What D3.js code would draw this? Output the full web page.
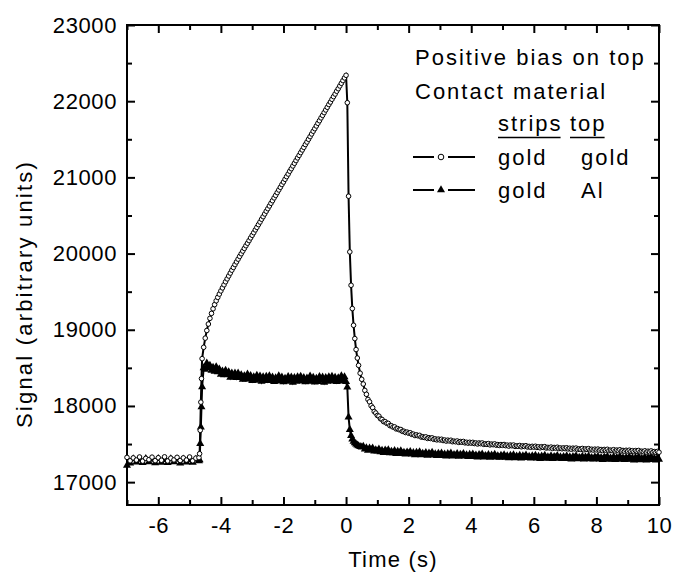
<!DOCTYPE html>
<html><head><meta charset="utf-8">
<script src="https://cdn.jsdelivr.net/npm/d3@7"></script>
<style>
body{margin:0;background:#fff}
text{font-family:"Liberation Sans",Arial,sans-serif;fill:#000}
</style>
</head><body>
<svg id="chart" width="673" height="574"></svg>
<script>
// ---------------- data ----------------
const time = [
-7.0,-6.9,-6.8,-6.7,-6.6,-6.5,-6.4,-6.3,-6.2,-6.1,-6.0,-5.9,-5.8,-5.7,-5.6,-5.5,-5.4,-5.3,-5.2,-5.1,-5.0,-4.9,-4.8,-4.7,
-4.68,-4.66,-4.64,-4.62,-4.60,
-4.55,-4.50,-4.45,-4.40,-4.35,-4.30,-4.25,-4.20,-4.15,-4.10,-4.05,-4.00,-3.95,-3.90,-3.85,-3.80,-3.75,-3.70,-3.65,-3.60,
-3.55,-3.50,-3.45,-3.40,-3.35,-3.30,-3.25,-3.20,-3.15,-3.10,-3.05,-3.00,-2.95,-2.90,-2.85,-2.80,-2.75,-2.70,-2.65,-2.60,
-2.55,-2.50,-2.45,-2.40,-2.35,-2.30,-2.25,-2.20,-2.15,-2.10,-2.05,-2.00,-1.95,-1.90,-1.85,-1.80,-1.75,-1.70,-1.65,-1.60,
-1.55,-1.50,-1.45,-1.40,-1.35,-1.30,-1.25,-1.20,-1.15,-1.10,-1.05,-1.00,-0.95,-0.90,-0.85,-0.80,-0.75,-0.70,-0.65,-0.60,
-0.55,-0.50,-0.45,-0.40,-0.35,-0.30,-0.25,-0.20,-0.15,-0.10,-0.05,0.00,
0.04,0.08,0.12,0.16,0.20,0.24,0.28,0.32,0.36,0.40,0.45,0.50,
0.55,0.60,0.65,0.70,0.75,0.80,0.85,0.90,0.95,1.00,
1.05,1.10,1.15,1.20,1.25,1.30,1.35,1.40,1.45,1.50,1.55,1.60,1.65,1.70,1.75,1.80,1.85,1.90,1.95,2.00,
2.05,2.10,2.15,2.20,2.25,2.30,2.35,2.40,2.45,2.50,2.55,2.60,2.65,2.70,2.75,2.80,2.85,2.90,2.95,3.00,
3.05,3.10,3.15,3.20,3.25,3.30,3.35,3.40,3.45,3.50,3.55,3.60,3.65,3.70,3.75,3.80,3.85,3.90,3.95,4.00,
4.05,4.10,4.15,4.20,4.25,4.30,4.35,4.40,4.45,4.50,4.55,4.60,4.65,4.70,4.75,4.80,4.85,4.90,4.95,5.00,
5.05,5.10,5.15,5.20,5.25,5.30,5.35,5.40,5.45,5.50,5.55,5.60,5.65,5.70,5.75,5.80,5.85,5.90,5.95,6.00,
6.05,6.10,6.15,6.20,6.25,6.30,6.35,6.40,6.45,6.50,6.55,6.60,6.65,6.70,6.75,6.80,6.85,6.90,6.95,7.00,
7.05,7.10,7.15,7.20,7.25,7.30,7.35,7.40,7.45,7.50,7.55,7.60,7.65,7.70,7.75,7.80,7.85,7.90,7.95,8.00,
8.05,8.10,8.15,8.20,8.25,8.30,8.35,8.40,8.45,8.50,8.55,8.60,8.65,8.70,8.75,8.80,8.85,8.90,8.95,9.00,
9.05,9.10,9.15,9.20,9.25,9.30,9.35,9.40,9.45,9.50,9.55,9.60,9.65,9.70,9.75,9.80,9.85,9.90,9.95,10.00
];
// strips gold / top gold (open circles)
const goldGold = [
17325,17280,17318,17290,17330,17276,17312,17295,17328,17282,17320,17288,17332,17278,17315,17292,17326,17284,17318,17290,17330,17280,17315,17322,
17373,17680,18050,18359,18621,
18770,18890,18990,19075,19150,19215,19275,19330,19380,19425,19468,19510,19550,19590,19630,19668,19706,19744,19782,19818,
19855,19891,19927,19963,19998,20033,20068,20103,20136,20170,20206,20240,20274,20311,20344,20380,20414,20451,20484,20520,
20556,20589,20625,20660,20694,20731,20764,20800,20835,20870,20906,20939,20975,21010,21044,21081,21114,21150,21185,21220,
21256,21289,21325,21360,21394,21431,21464,21500,21535,21570,21606,21639,21675,21710,21744,21781,21814,21850,21885,21920,
21956,21989,22025,22060,22094,22131,22164,22200,22235,22270,22306,22340,
21980,20753,20022,19584,19278,19059,18884,18740,18629,18533,18430,18350,
18288,18204,18153,18086,18054,18003,17977,17927,17907,17875,
17866,17832,17823,17794,17794,17772,17771,17742,17740,17723,17725,17699,17703,17687,17691,17667,17668,17651,17657,17642,
17648,17627,17630,17612,17621,17608,17614,17592,17596,17586,17594,17574,17583,17573,17581,17562,17568,17555,17565,17554,
17563,17546,17553,17539,17551,17541,17550,17531,17538,17530,17540,17522,17533,17524,17534,17516,17523,17512,17523,17512,
17522,17507,17514,17501,17514,17505,17514,17496,17503,17496,17506,17489,17500,17492,17502,17485,17493,17482,17493,17483,
17494,17479,17486,17473,17487,17478,17487,17469,17477,17470,17481,17464,17476,17468,17478,17461,17469,17458,17470,17460,
17471,17456,17464,17451,17465,17456,17466,17448,17456,17449,17460,17443,17455,17447,17458,17441,17449,17438,17450,17440,
17451,17436,17445,17432,17446,17437,17447,17429,17437,17430,17442,17425,17437,17429,17440,17423,17432,17421,17433,17423,
17434,17419,17428,17415,17429,17420,17431,17413,17421,17414,17426,17409,17421,17413,17425,17408,17416,17405,17418,17408,
17419,17404,17413,17400,17414,17405,17416,17398,17406,17399,17411,17394,17406,17398,17410,17393,17401,17390,17403,17393
];
// strips gold / top Al (filled triangles)
const goldAl = [
17220,17250,17305,17262,17298,17255,17310,17265,17300,17252,17308,17260,17296,17256,17306,17264,17300,17250,17302,17262,17295,17258,17300,17280,
17290,17505,17723,17986,18249,
18500,18480,18563,18502,18532,18465,18505,18454,18514,18446,18484,18413,18456,18407,18466,18410,18448,18375,18430,18381,
18431,18372,18431,18372,18409,18349,18396,18350,18416,18354,18398,18332,18380,18336,18400,18349,18391,18322,18381,18336,
18389,18333,18395,18338,18377,18320,18369,18326,18393,18333,18378,18314,18363,18321,18385,18335,18378,18310,18370,18326,
18380,18325,18388,18332,18372,18315,18365,18322,18390,18330,18376,18312,18362,18320,18385,18335,18378,18310,18370,18326,
18380,18325,18389,18333,18374,18317,18368,18325,18394,18334,18381,18317,
18248,17854,17690,17610,17565,17535,17514,17498,17486,17476,17467,17459,
17470,17432,17448,17416,17446,17425,17447,17406,17424,17406,
17434,17398,17417,17387,17419,17400,17423,17383,17402,17385,17412,17374,17402,17384,17411,17374,17391,17367,17395,17374,
17400,17366,17386,17357,17390,17372,17396,17357,17377,17361,17388,17351,17379,17362,17390,17354,17371,17347,17376,17356,
17382,17348,17368,17340,17373,17355,17380,17341,17361,17346,17373,17336,17365,17348,17375,17340,17357,17334,17363,17342,
17369,17335,17356,17327,17360,17343,17367,17329,17349,17334,17361,17325,17353,17337,17364,17329,17346,17323,17352,17332,
17358,17325,17345,17317,17350,17333,17358,17319,17340,17324,17352,17315,17344,17328,17355,17320,17337,17314,17344,17323,
17350,17316,17337,17309,17342,17325,17350,17311,17332,17316,17344,17308,17336,17320,17348,17312,17330,17307,17336,17316,
17343,17309,17330,17302,17335,17318,17343,17304,17325,17310,17337,17301,17330,17313,17341,17306,17323,17300,17330,17309,
17336,17303,17323,17295,17329,17311,17336,17298,17318,17303,17331,17295,17323,17307,17335,17299,17317,17294,17323,17303,
17330,17297,17317,17289,17323,17305,17330,17292,17313,17297,17325,17289,17317,17301,17329,17294,17311,17288,17318,17297
];
const xTicks = [-6,-4,-2,0,2,4,6,8,10];
const xMinorTicks = [-7,-5,-3,-1,1,3,5,7,9];
const yTicks = [17000,18000,19000,20000,21000,22000,23000];
const yMinorTicks = [17500,18500,19500,20500,21500,22500];
const xLabel = "Time (s)";
const yLabel = "Signal (arbitrary units)";
const legendTitle1 = "Positive bias on top";
const legendTitle2 = "Contact material";
const legendHeaders = ["strips","top"];
const legendRows = [["gold","gold"],["gold","Al"]];

// ---------------- chart ----------------
const svg = d3.select("#chart");
const L = 127, R = 659, T = 25, B = 505;
const x = d3.scaleLinear().domain([-7,10]).range([L,R]);
const y = d3.scaleLinear().domain([16700,23000]).range([B,T]);
const FS = 22;

function styleAxis(g){
  g.selectAll("path.domain").remove();
  g.selectAll(".tick line").attr("stroke","#000").attr("stroke-width",2);
  g.selectAll("text").attr("font-size",FS).attr("fill","#000")
   .style("font-family",'"Liberation Sans",Arial,sans-serif').style("letter-spacing","0.6px");
}
// bottom
svg.append("g").attr("transform",`translate(0,${B})`)
  .call(d3.axisBottom(x).tickValues(xTicks).tickSize(-8).tickPadding(12).tickFormat(d=>String(d)))
  .call(styleAxis);
svg.append("g").attr("transform",`translate(0,${B})`)
  .call(d3.axisBottom(x).tickValues(xMinorTicks).tickSize(-5).tickFormat(""))
  .call(styleAxis);
// top
svg.append("g").attr("transform",`translate(0,${T})`)
  .call(d3.axisTop(x).tickValues(xTicks).tickSize(-8).tickFormat(""))
  .call(styleAxis);
svg.append("g").attr("transform",`translate(0,${T})`)
  .call(d3.axisTop(x).tickValues(xMinorTicks).tickSize(-5).tickFormat(""))
  .call(styleAxis);
// left
svg.append("g").attr("transform",`translate(${L},0)`)
  .call(d3.axisLeft(y).tickValues(yTicks).tickSize(-8).tickPadding(10).tickFormat(d=>String(d)))
  .call(styleAxis);
svg.append("g").attr("transform",`translate(${L},0)`)
  .call(d3.axisLeft(y).tickValues(yMinorTicks).tickSize(-5).tickFormat(""))
  .call(styleAxis);
// right
svg.append("g").attr("transform",`translate(${R},0)`)
  .call(d3.axisRight(y).tickValues(yTicks).tickSize(-8).tickFormat(""))
  .call(styleAxis);
svg.append("g").attr("transform",`translate(${R},0)`)
  .call(d3.axisRight(y).tickValues(yMinorTicks).tickSize(-5).tickFormat(""))
  .call(styleAxis);
// frame
svg.append("rect").attr("x",L).attr("y",T).attr("width",R-L).attr("height",B-T)
  .attr("fill","none").attr("stroke","#000").attr("stroke-width",2);

// series
const dataAl = time.map((t,i)=>({t, v: goldAl[i]}));
const dataAu = time.map((t,i)=>({t, v: goldGold[i]}));
const line = d3.line().x(d=>x(d.t)).y(d=>y(d.v));

svg.append("path").datum(dataAl).attr("d",line).attr("fill","none")
  .attr("stroke","#000").attr("stroke-width",2);
const tri = d3.symbol().type(d3.symbolTriangle).size(28);
svg.append("g").selectAll("path").data(dataAl).join("path")
  .attr("d",tri).attr("transform",d=>`translate(${x(d.t)},${y(d.v)})`).attr("fill","#000");

svg.append("path").datum(dataAu).attr("d",line).attr("fill","none")
  .attr("stroke","#000").attr("stroke-width",2);
svg.append("g").selectAll("circle").data(dataAu).join("circle")
  .attr("cx",d=>x(d.t)).attr("cy",d=>y(d.v)).attr("r",2.3)
  .attr("fill","#fff").attr("stroke","#000").attr("stroke-width",1);

// axis titles
svg.append("text").attr("x",(L+R)/2).attr("y",567).attr("text-anchor","middle")
  .attr("font-size",FS).style("letter-spacing","1.2px").text(xLabel);
svg.append("text").attr("transform","translate(32,294) rotate(-90)").attr("text-anchor","middle")
  .attr("font-size",FS).style("letter-spacing","2.2px").text(yLabel);

// legend
const LS = 2.0;
const lg = svg.append("g").attr("font-size",FS).style("letter-spacing",LS+"px");
lg.append("text").attr("x",415).attr("y",65).text(legendTitle1);
lg.append("text").attr("x",415).attr("y",99).text(legendTitle2);
const colX = [498,570];
legendHeaders.forEach((h,i)=>{
  const t = lg.append("text").attr("x",colX[i]).attr("y",131).text(h);
  const w = t.node().getComputedTextLength() - LS;
  lg.append("line").attr("x1",colX[i]).attr("x2",colX[i]+w).attr("y1",137.5).attr("y2",137.5)
    .attr("stroke","#000").attr("stroke-width",1.6);
});
const rowY = [165,198];
legendRows.forEach((r,i)=>{
  r.forEach((s,j)=>lg.append("text").attr("x",j===0?colX[0]:581).attr("y",rowY[i]).text(s));
  const cy = rowY[i]-8;
  lg.append("line").attr("x1",413).attr("x2",434).attr("y1",cy).attr("y2",cy).attr("stroke","#000").attr("stroke-width",2);
  lg.append("line").attr("x1",448).attr("x2",475).attr("y1",cy).attr("y2",cy).attr("stroke","#000").attr("stroke-width",2);
  if(i===0){
    lg.append("circle").attr("cx",441).attr("cy",cy).attr("r",2.8).attr("fill","#fff").attr("stroke","#000").attr("stroke-width",1);
  } else {
    lg.append("path").attr("d",d3.symbol().type(d3.symbolTriangle).size(28)).attr("transform",`translate(441,${cy})`).attr("fill","#000");
  }
});
</script>
</body></html>
